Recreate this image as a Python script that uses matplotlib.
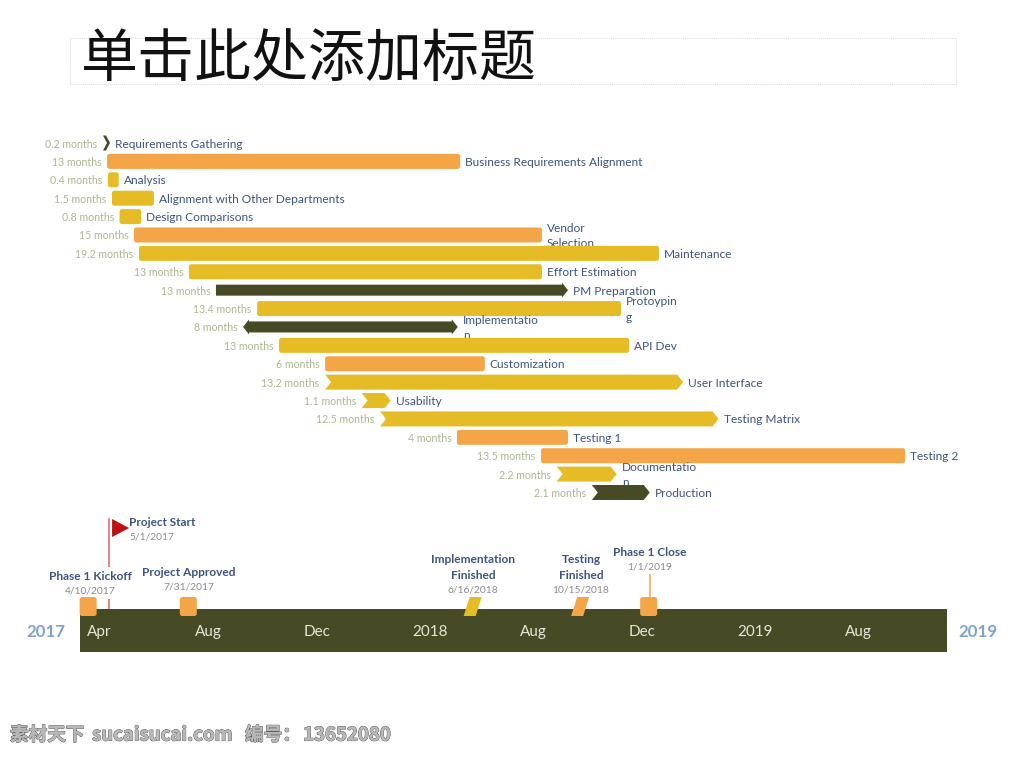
import matplotlib
matplotlib.use('Agg')
import matplotlib.pyplot as plt
import matplotlib.patheffects as pe
from matplotlib.patches import FancyBboxPatch, Polygon, Rectangle

plt.rcParams['font.family'] = ['Lato', 'Noto Sans CJK SC', 'DejaVu Sans']

ORANGE = '#F4A548'
YELLOW = '#E6BC26'
DARK = '#464B25'

# months since Apr 2017
tasks = ['Requirements Gathering', 'Business Requirements Alignment', 'Analysis',
         'Alignment with Other Departments', 'Design Comparisons', 'Vendor\nSelection',
         'Maintenance', 'Effort Estimation', 'PM Preparation', 'Protoypin\ng',
         'Implementatio\nn', 'API Dev', 'Customization', 'User Interface', 'Usability',
         'Testing Matrix', 'Testing 1', 'Testing 2', 'Documentatio\nn', 'Production']
starts = [0.85, 1.0, 1.03, 1.18, 1.46, 1.99, 2.18, 4.02, 5.02, 6.54,
          6.02, 7.35, 9.05, 9.05, 10.4, 11.08, 13.92, 17.02, 17.6, 18.9]
durations = [0.2, 13.04, 0.4, 1.55, 0.8, 15.07, 19.2, 13.04, 13, 13.44,
             7.93, 12.93, 5.9, 13.22, 1.07, 12.5, 4.1, 13.45, 2.22, 2.14]
duration_labels = ['0.2 months', '13 months', '0.4 months', '1.5 months', '0.8 months',
                   '15 months', '19.2 months', '13 months', '13 months', '13.4 months',
                   '8 months', '13 months', '6 months', '13.2 months', '1.1 months',
                   '12.5 months', '4 months', '13.5 months', '2.2 months', '2.1 months']
colors = [DARK, ORANGE, YELLOW, YELLOW, YELLOW, ORANGE, YELLOW, YELLOW, DARK, YELLOW,
          DARK, YELLOW, ORANGE, YELLOW, YELLOW, YELLOW, ORANGE, ORANGE, YELLOW, DARK]
shapes = ['chevron', 'rect', 'rect', 'rect', 'rect', 'rect', 'rect', 'rect', 'arrow', 'rect',
          'double', 'rect', 'rect', 'chevron', 'chevron', 'chevron', 'rect', 'rect', 'chevron', 'chevron']

tick_labels = ['Apr', 'Aug', 'Dec', '2018', 'Aug', 'Dec', '2019', 'Aug']
tick_months = [0, 4, 8, 12, 16, 20, 24, 28]
band_start, band_end = 0, 32

ms_names = ['Phase 1 Kickoff', 'Project Approved', 'Implementation\nFinished', 'Testing\nFinished', 'Phase 1 Close']
ms_dates = ['4/10/2017', '7/31/2017', '6/16/2018', '10/15/2018', '1/1/2019']
ms_months = [0.3, 4.0, 14.5, 18.47, 21.0]
ms_colors = [ORANGE, ORANGE, YELLOW, ORANGE, ORANGE]
ms_shapes = ['box', 'box', 'slant', 'slant', 'box']
flag_month = 1.0

MP = 27.08   # px per month
RP = 18.395  # px per row
X0 = 80
Y0 = 143

fig = plt.figure(figsize=(10.24, 7.58), dpi=100)
ax = fig.add_axes([0, 0, 1, 1])
ax.set_xlim(-X0 / MP, (1024 - X0) / MP)
ax.set_ylim((758 - Y0) / RP, -Y0 / RP)
ax.axis('off')


def py(v):
    return (v - Y0) / RP


def px(v):
    return (v - X0) / MP


def wx(v):
    return v / MP


def wy(v):
    return v / RP


def rounded(x, y, w, h, color, z, r=2.5):
    ax.add_patch(FancyBboxPatch((x, y), w, h, boxstyle=f'round,pad=0,rounding_size={wx(r)}',
                                mutation_aspect=MP / RP, fc=color, ec='none', zorder=z))


for i in range(len(tasks)):
    s = starts[i]
    e = s + durations[i]
    z = 2 * i + 2
    hh = wy(7.5)
    tip = wx(6)
    if i == 0:
        e = s + wx(7)
        tip = wx(4)
    if shapes[i] == 'rect':
        rounded(s, i - hh, e - s, 2 * hh, colors[i], z)
    elif shapes[i] == 'chevron':
        ax.add_patch(Polygon([(s, i - hh), (e - tip, i - hh), (e, i), (e - tip, i + hh), (s, i + hh), (s + tip, i)],
                             fc=colors[i], ec='none', zorder=z))
    elif shapes[i] == 'arrow':
        sh = wy(5.5)
        ax.add_patch(Polygon([(s, i - sh), (e - tip, i - sh), (e - tip, i - hh), (e, i), (e - tip, i + hh),
                              (e - tip, i + sh), (s, i + sh)], fc=colors[i], ec='none', zorder=z))
    else:
        sh = wy(5.5)
        ax.add_patch(Polygon([(s, i), (s + tip, i - hh), (s + tip, i - sh), (e - tip, i - sh), (e - tip, i - hh), (e, i),
                              (e - tip, i + hh), (e - tip, i + sh), (s + tip, i + sh), (s + tip, i + hh)],
                             fc=colors[i], ec='none', zorder=z))
    ax.text(s - wx(5.5), i + wy(1), duration_labels[i], ha='right', va='center', fontsize=7.6, color='#ABB78F',
            zorder=z + 1)
    ax.text(e + wx(5), i + wy(1), tasks[i], ha='left', va='center', fontsize=8.55, color='#3D5480', zorder=z + 1,
            linespacing=1.5)

# timeline band
ax.add_patch(Rectangle((band_start, py(609)), band_end - band_start, py(652) - py(609), fc=DARK, ec='none', zorder=50))
for m, lab in zip(tick_months, tick_labels):
    ax.text(m + wx(7), py(632), lab, ha='left', va='center', fontsize=11, color='#E4E6D8', zorder=51)
ax.text(px(46), py(632), '2017', ha='center', va='center', fontsize=12.2, fontweight='bold', color='#7FA3CE')
ax.text(px(978), py(632), '2019', ha='center', va='center', fontsize=12.2, fontweight='bold', color='#7FA3CE')

# flag
ax.plot([flag_month + wx(2), flag_month + wx(2)], [py(519), py(609)], color='#E0606A', lw=1.1, zorder=40)
ax.add_patch(Polygon([(flag_month + wx(5), py(519)), (flag_month + wx(22), py(528)), (flag_month + wx(5), py(537))],
                     fc='#C00F14', ec='none', zorder=41))
ax.text(px(129), py(522), 'Project Start', ha='left', va='center', fontsize=8.5, fontweight='bold', color='#3D5480')
ax.text(px(129), py(537), '5/1/2017', ha='left', va='center', fontsize=7.4, color='#8C8C8C')

# milestones
name_y = [576, 572, 567.5, 567.5, 552]
date_y = [591, 587, 590, 590, 566.5]
ms_text_x = [90, 189, 473, 581, 650]
white = dict(fc='white', ec='none', pad=2.5)
for i in range(len(ms_names)):
    m = ms_months[i]
    if ms_shapes[i] == 'box':
        rounded(m - wx(8.5), py(597), wx(17), py(616) - py(597), ms_colors[i], 60)
    else:
        ax.add_patch(Polygon([(m - wx(3), py(597)), (m + wx(9), py(597)), (m + wx(3), py(616)), (m - wx(9), py(616))],
                             fc=ms_colors[i], ec='none', zorder=60))
    ax.text(px(ms_text_x[i]), py(name_y[i]), ms_names[i], ha='center', va='center', fontsize=8.6,
            fontweight='bold', color='#3D5480', linespacing=1.5, bbox=white, zorder=45)
    ax.text(px(ms_text_x[i]), py(date_y[i]), ms_dates[i], ha='center', va='center', fontsize=7.4, color='#8C8C8C',
            bbox=white, zorder=45)
ax.plot([ms_months[4] + wx(1.5)] * 2, [py(573), py(597)], color=ORANGE, lw=1.1, zorder=40)

# title placeholder
ax.add_patch(Rectangle((px(70), py(38)), wx(886), py(84) - py(38), fc='none', ec='#D8D8D8', lw=0.7, ls=(0, (1, 1))))
ax.text(px(81), py(60), '单击此处添加标题', ha='left', va='center', fontsize=41, color='#111111',
        family=['Noto Sans CJK SC', 'DejaVu Sans'], fontweight='light')

# watermark
wm_x = [10, 92, 245, 303]
wm_text = ['素材天下', 'sucaisucai.com', '编号：', '13652080']
for x, t in zip(wm_x, wm_text):
    wm = ax.text(px(x), py(735), t, ha='left', va='center', fontsize=13.4,
                 fontweight='bold', color='#B8B8B8', family=['Noto Sans CJK SC', 'DejaVu Sans'])
    wm.set_path_effects([pe.withStroke(linewidth=0.8, foreground='#555555'), pe.Normal()])

fig.savefig('out.png', dpi=100)
